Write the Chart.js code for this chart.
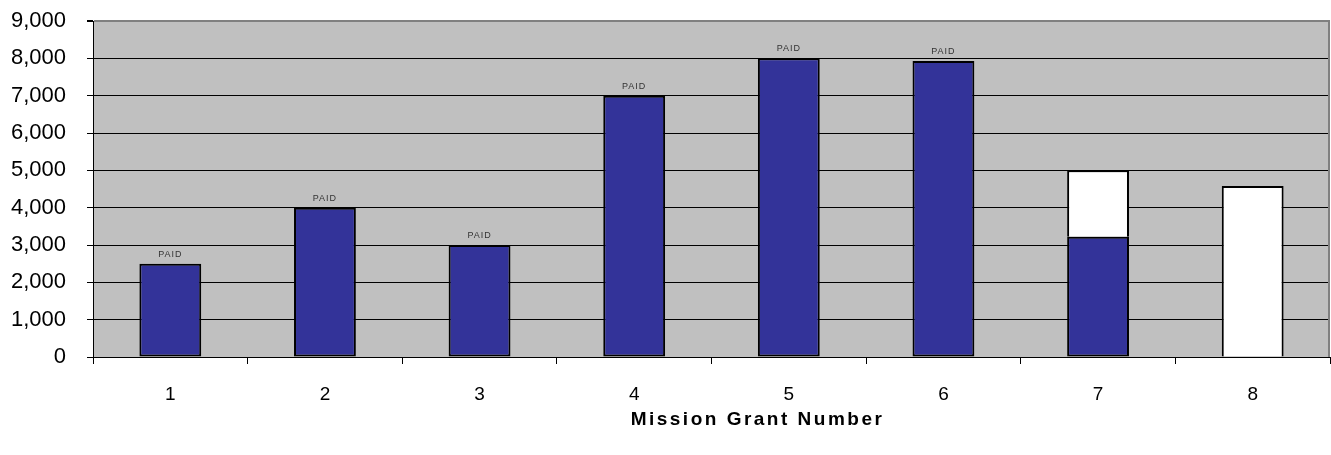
<!DOCTYPE html>
<html>
<head>
<meta charset="utf-8">
<script src="https://cdn.jsdelivr.net/npm/chart.js@4.4.1/dist/chart.umd.min.js"></script>
<style>
  html, body { margin: 0; padding: 0; background: #fff; }
  #wrap { width: 1331px; height: 455px; }
</style>
</head>
<body>
<div id="wrap"><canvas id="chart"></canvas></div>
<script>
var grants = ['1', '2', '3', '4', '5', '6', '7', '8'];
var paid = [2500, 4000, 3000, 7000, 8000, 7930, 3220, null];
var pending = [null, null, null, null, null, null, 1780, 4580];
var barLabels = ['PAID', 'PAID', 'PAID', 'PAID', 'PAID', 'PAID', '', ''];
var axisTitle = 'Mission Grant Number';

var fontFamily = '"Liberation Sans", Arial, sans-serif';

var plotBackground = {
	id: 'plotBackground',
	beforeDraw: function(chart) {
		var a = chart.chartArea, ctx = chart.ctx;
		ctx.save();
		ctx.fillStyle = '#c0c0c0';
		ctx.fillRect(a.left, a.top, a.right - a.left, a.bottom - a.top);
		ctx.restore();
	},
	afterDraw: function(chart) {
		var a = chart.chartArea, ctx = chart.ctx;
		ctx.save();
		// right edge of plot
		ctx.strokeStyle = '#808080';
		ctx.lineWidth = 2;
		ctx.beginPath();
		ctx.moveTo(a.right - 1, a.top);
		ctx.lineTo(a.right - 1, a.bottom);
		ctx.stroke();
		// paid labels
		var meta = chart.getDatasetMeta(0);
		ctx.font = '9px ' + fontFamily;
		ctx.letterSpacing = '1px';
		ctx.fillStyle = '#333333';
		ctx.textAlign = 'center';
		ctx.textBaseline = 'alphabetic';
		meta.data.forEach(function(bar, i) {
			if (!barLabels[i]) return;
			ctx.fillText(barLabels[i], bar.x, bar.y - 7);
		});
		// axis title
		ctx.letterSpacing = '2.5px';
		ctx.font = 'bold 19px ' + fontFamily;
		ctx.fillStyle = '#000';
		ctx.textBaseline = 'middle';
		ctx.fillText(axisTitle, (a.left + a.right) / 2 + 46, 420);
		ctx.restore();
	}
};

new Chart(document.getElementById('chart'), {
	type: 'bar',
	data: {
		labels: grants,
		datasets: [
			{
				label: 'Paid',
				data: paid,
				backgroundColor: '#333399',
				borderColor: '#000',
				borderWidth: 2,
				borderSkipped: false
			},
			{
				label: 'Pending',
				data: pending,
				backgroundColor: '#ffffff',
				borderColor: '#000',
				borderWidth: 2,
				borderSkipped: 'bottom'
			}
		]
	},
	options: {
		responsive: true,
		maintainAspectRatio: false,
		animation: false,
		events: [],
		layout: { padding: { top: 21, right: 1, left: 0, bottom: 0 } },
		plugins: {
			legend: { display: false },
			tooltip: { enabled: false }
		},
		datasets: {
			bar: { categoryPercentage: 1, barPercentage: 0.4 }
		},
		scales: {
			x: {
				stacked: true,
				afterFit: function(scale) { scale.height = 98; },
				grid: {
					offset: true,
					drawOnChartArea: false,
					tickLength: 7,
					color: '#000'
				},
				border: { color: '#000', width: 1 },
				ticks: {
					color: '#000',
					padding: 19,
					font: { family: fontFamily, size: 19 }
				}
			},
			y: {
				stacked: true,
				min: 0,
				max: 9000,
				afterFit: function(scale) {
					scale.width = 93;
					scale.paddingTop = 0;
					scale.paddingBottom = 0;
				},
				grid: {
					color: function(c) { return c.tick && c.tick.value === 9000 ? '#808080' : '#000'; },
					lineWidth: function(c) { return c.tick && c.tick.value === 9000 ? 2 : 1; },
					tickLength: 6,
					tickColor: '#000'
				},
				border: { color: '#000', width: 1 },
				ticks: {
					stepSize: 1000,
					color: '#000',
					padding: 21,
					font: { family: fontFamily, size: 22 }
				}
			}
		}
	},
	plugins: [plotBackground]
});
</script>
</body>
</html>
